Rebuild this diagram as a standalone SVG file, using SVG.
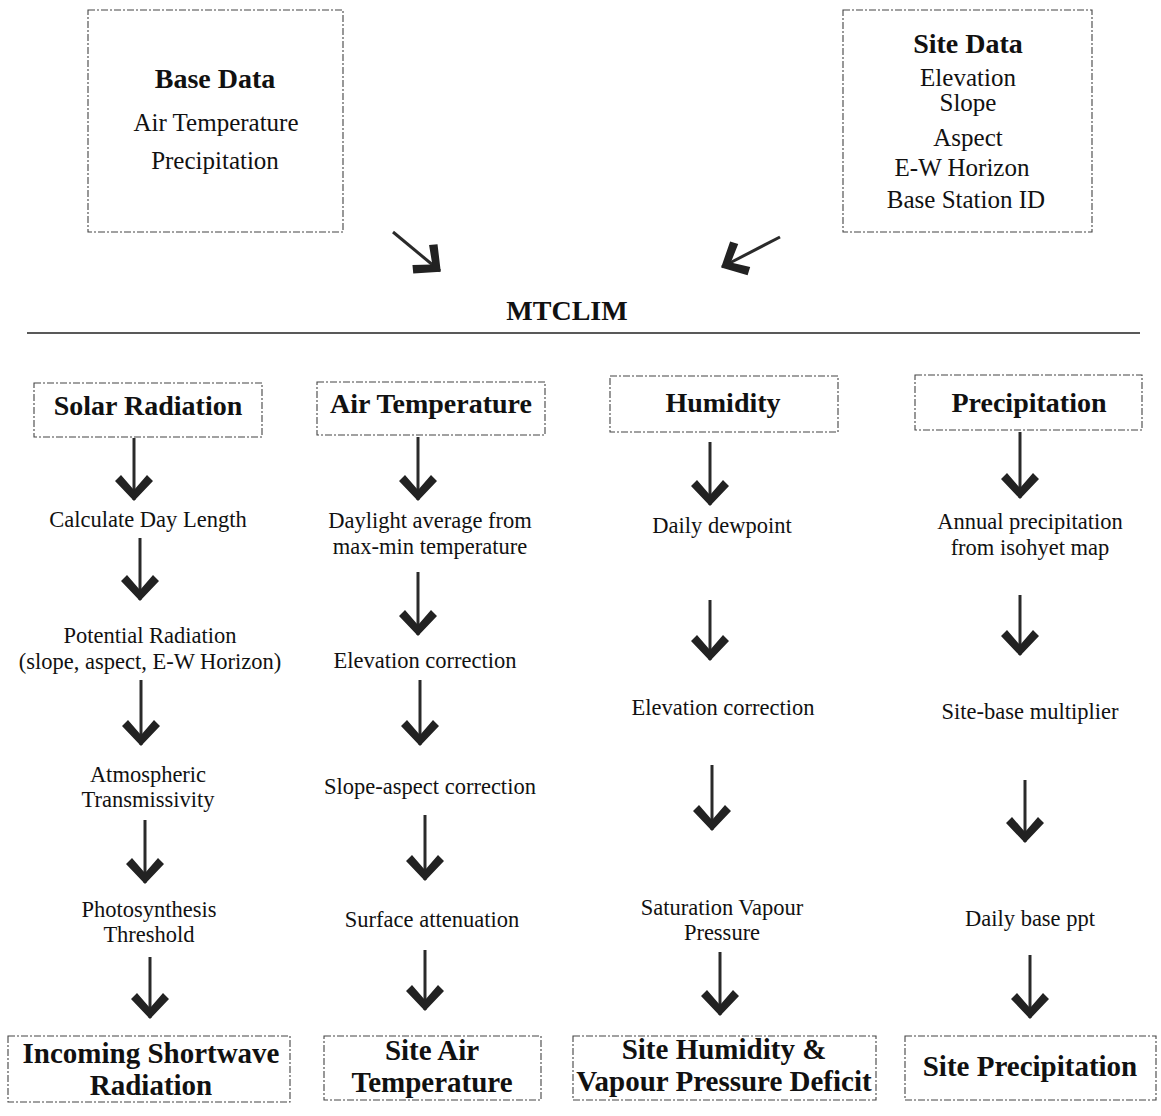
<svg xmlns="http://www.w3.org/2000/svg" width="1161" height="1116" viewBox="0 0 1161 1116">
<style>
.bx{fill:#fff;stroke:#444;stroke-width:1.1;stroke-dasharray:7 2 2 2}
.t{font-family:"Liberation Serif","Times New Roman",serif;fill:#111;text-anchor:middle}
.r{font-size:22.5px}
.m{font-size:25px}
.b{font-size:28px;font-weight:bold}
.bb{font-size:29px;font-weight:bold}
.ar{stroke:#2a2a2a;stroke-width:3;fill:none}
</style>
<defs>
<marker id="ah" markerUnits="userSpaceOnUse" viewBox="-28 -22 30 44" refX="0" refY="0" markerWidth="30" markerHeight="44" orient="auto">
<path d="M1,0 L-19,-19 L-25,-13 L-10,0 L-25,13 L-19,19 Z" fill="#222"/>
</marker>
</defs>
<rect width="1161" height="1116" fill="#fff"/>

<g id="base-data">
<rect class="bx" x="88" y="10" width="255" height="222"/>
<text class="t b" x="215" y="88">Base Data</text>
<text class="t m" x="216" y="131">Air Temperature</text>
<text class="t m" x="215" y="169">Precipitation</text>
</g>

<g id="site-data">
<rect class="bx" x="843" y="10" width="249" height="222"/>
<text class="t b" x="968" y="53">Site Data</text>
<text class="t m" x="968" y="86">Elevation</text>
<text class="t m" x="968" y="111">Slope</text>
<text class="t m" x="968" y="146">Aspect</text>
<text class="t m" x="962" y="176">E-W Horizon</text>
<text class="t m" x="966" y="208">Base Station ID</text>
</g>

<g id="mtclim">
<text class="t b" x="567" y="320">MTCLIM</text>
<line x1="27" y1="333" x2="1140" y2="333" stroke="#222" stroke-width="1.3"/>
</g>

<g id="solar-radiation">
<rect class="bx" x="34" y="383" width="228" height="54"/>
<text class="t b" x="148" y="415">Solar Radiation</text>
</g>
<g id="air-temperature">
<rect class="bx" x="317" y="382" width="228" height="53"/>
<text class="t b" x="431" y="413">Air Temperature</text>
</g>
<g id="humidity">
<rect class="bx" x="610" y="376" width="228" height="56"/>
<text class="t b" x="723" y="412">Humidity</text>
</g>
<g id="precipitation">
<rect class="bx" x="915" y="375" width="227" height="55"/>
<text class="t b" x="1029" y="412">Precipitation</text>
</g>

<g id="solar-steps">
<text class="t r" x="148" y="527">Calculate Day Length</text>
<text class="t r" x="150" y="643">Potential Radiation</text>
<text class="t r" x="150" y="669">(slope, aspect, E-W Horizon)</text>
<text class="t r" x="148" y="782">Atmospheric</text>
<text class="t r" x="148" y="807">Transmissivity</text>
<text class="t r" x="149" y="917">Photosynthesis</text>
<text class="t r" x="149" y="942">Threshold</text>
</g>
<g id="air-steps">
<text class="t r" x="430" y="528">Daylight average from</text>
<text class="t r" x="430" y="554">max-min temperature</text>
<text class="t r" x="425" y="668">Elevation correction</text>
<text class="t r" x="430" y="794">Slope-aspect correction</text>
<text class="t r" x="432" y="927">Surface attenuation</text>
</g>
<g id="humidity-steps">
<text class="t r" x="722" y="533">Daily dewpoint</text>
<text class="t r" x="723" y="715">Elevation correction</text>
<text class="t r" x="722" y="915">Saturation Vapour</text>
<text class="t r" x="722" y="940">Pressure</text>
</g>
<g id="precip-steps">
<text class="t r" x="1030" y="529">Annual precipitation</text>
<text class="t r" x="1030" y="555">from isohyet map</text>
<text class="t r" x="1030" y="719">Site-base multiplier</text>
<text class="t r" x="1030" y="926">Daily base ppt</text>
</g>

<g id="out-shortwave">
<rect class="bx" x="8" y="1036" width="282" height="66"/>
<text class="t bb" x="151" y="1063">Incoming Shortwave</text>
<text class="t bb" x="151" y="1095">Radiation</text>
</g>
<g id="out-air">
<rect class="bx" x="324" y="1036" width="217" height="64"/>
<text class="t bb" x="432" y="1060">Site Air</text>
<text class="t bb" x="432" y="1092">Temperature</text>
</g>
<g id="out-humidity">
<rect class="bx" x="573" y="1036" width="303" height="64"/>
<text class="t bb" x="724" y="1059">Site Humidity &amp;</text>
<text class="t bb" x="724" y="1091">Vapour Pressure Deficit</text>
</g>
<g id="out-precip">
<rect class="bx" x="905" y="1036" width="251" height="64"/>
<text class="t bb" x="1030" y="1076">Site Precipitation</text>
</g>

<g id="connectors" class="ar" marker-end="url(#ah)">
<line x1="393" y1="232" x2="440" y2="271"/>
<line x1="780" y1="237" x2="722" y2="267"/>

<line x1="134" y1="438" x2="134" y2="500"/>
<line x1="140" y1="538" x2="140" y2="600"/>
<line x1="141" y1="680" x2="141" y2="745"/>
<line x1="145" y1="820" x2="145" y2="883"/>
<line x1="150" y1="957" x2="150" y2="1018"/>

<line x1="418" y1="437" x2="418" y2="500"/>
<line x1="418" y1="572" x2="418" y2="635"/>
<line x1="420" y1="680" x2="420" y2="745"/>
<line x1="425" y1="815" x2="425" y2="880"/>
<line x1="425" y1="950" x2="425" y2="1010"/>

<line x1="710" y1="442" x2="710" y2="505"/>
<line x1="710" y1="600" x2="710" y2="660"/>
<line x1="712" y1="765" x2="712" y2="830"/>
<line x1="720" y1="952" x2="720" y2="1015"/>

<line x1="1020" y1="432" x2="1020" y2="498"/>
<line x1="1020" y1="595" x2="1020" y2="655"/>
<line x1="1025" y1="780" x2="1025" y2="842"/>
<line x1="1030" y1="955" x2="1030" y2="1018"/>
</g>
</svg>
